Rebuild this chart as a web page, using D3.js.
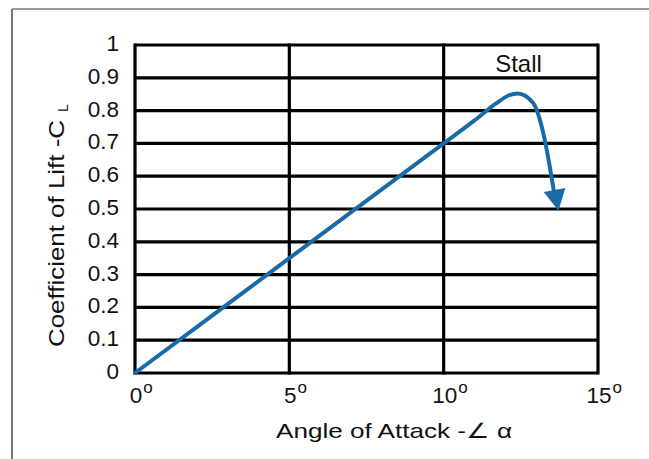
<!DOCTYPE html>
<html><head><meta charset="utf-8">
<script src="https://cdn.jsdelivr.net/npm/d3@7"></script>
<style>html,body{margin:0;padding:0;background:#fff;}svg{display:block;font-family:"Liberation Sans",Arial,sans-serif;}</style>
</head><body>
<svg id="c" width="649" height="459"></svg>
<script>
const xTicks = [0, 5, 10, 15];
const xTickLabels = ["0", "5", "10", "15"];
const yTicks = [0, 0.1, 0.2, 0.3, 0.4, 0.5, 0.6, 0.7, 0.8, 0.9, 1];
const yTickLabels = ["0", "0.1", "0.2", "0.3", "0.4", "0.5", "0.6", "0.7", "0.8", "0.9", "1"];
const angle = [0, 5, 10, 11.0, 11.7, 12.1, 12.4, 12.9, 13.18, 13.38, 13.56];
const cl    = [0, 0.35, 0.70, 0.77, 0.822, 0.846, 0.852, 0.823, 0.75, 0.66, 0.56];
const arrowTip = [13.72, 0.495];

const svg = d3.select("#c");
const x = d3.scaleLinear().domain([0, 15]).range([135, 598]);
const y = d3.scaleLinear().domain([0, 1]).range([373, 45]);

// outer frame
svg.append("line").attr("x1", 12).attr("x2", 649).attr("y1", 9).attr("y2", 9).attr("stroke", "#777").attr("stroke-width", 1.5);
svg.append("line").attr("x1", 12).attr("x2", 12).attr("y1", 9).attr("y2", 459).attr("stroke", "#777").attr("stroke-width", 2);

// grid
const g = svg.append("g");
g.selectAll("line.h").data(yTicks).join("line").attr("class", "h")
  .attr("x1", x(0)).attr("x2", x(15)).attr("y1", d => y(d)).attr("y2", d => y(d))
  .attr("stroke", "#000").attr("stroke-width", 3.2);
g.selectAll("line.v").data(xTicks).join("line").attr("class", "v")
  .attr("x1", d => x(d)).attr("x2", d => x(d)).attr("y1", y(0) + 1.6).attr("y2", y(1) - 1.6)
  .attr("stroke", "#000").attr("stroke-width", 3.2);

// y tick labels
svg.selectAll("text.yt").data(yTicks).join("text").attr("class", "yt")
  .attr("x", 119).attr("y", d => y(d) + 6).attr("text-anchor", "end")
  .attr("font-size", 22.5).attr("fill", "#111").text((d, i) => yTickLabels[i]);

// x tick labels with degree superscript
xTicks.forEach((d, i) => {
  const t = svg.append("text").attr("y", 403).attr("font-size", 22.5).attr("fill", "#111");
  t.append("tspan").text(xTickLabels[i]);
  t.append("tspan").attr("font-size", 17).attr("dy", -10).attr("dx", 1).text("o");
  const numW = t.select("tspan").node().getComputedTextLength();
  t.attr("x", x(d) - numW / 2 + 1);
});

// axis titles
svg.append("text").attr("x", 276).attr("y", 438)
  .attr("font-size", 21).attr("fill", "#111")
  .attr("textLength", 236).attr("lengthAdjust", "spacingAndGlyphs")
  .text("Angle of Attack -∠ α");
const yt = svg.append("text").attr("transform", `translate(64,347) rotate(-90)`)
  .attr("font-size", 22).attr("fill", "#111");
yt.append("tspan").attr("textLength", 227).attr("lengthAdjust", "spacingAndGlyphs").text("Coefficient of Lift -C");
yt.append("tspan").attr("font-size", 14).attr("dx", 8).attr("dy", 4).text("L");

svg.append("text").attr("x", 518.5).attr("y", 72).attr("text-anchor", "middle")
  .attr("font-size", 24).attr("fill", "#111").text("Stall");

// curve
const pts = angle.map((a, i) => [a, cl[i]]);
const line = d3.line().x(d => x(d[0])).y(d => y(d[1])).curve(d3.curveMonotoneX);
svg.append("path").attr("d", line(pts)).attr("fill", "none")
  .attr("stroke", "#1a6aa8").attr("stroke-width", 4).attr("stroke-linecap", "round");

// arrowhead
const tx = x(arrowTip[0]), ty = y(arrowTip[1]);
const lx = x(pts[pts.length - 2][0]), ly = y(pts[pts.length - 2][1]);
const ang = Math.atan2(ty - ly, tx - lx);
const len = 21, half = 11;
const bx = tx - len * Math.cos(ang), by = ty - len * Math.sin(ang);
const px = -Math.sin(ang), py = Math.cos(ang);
svg.append("path")
  .attr("d", `M${tx},${ty}L${bx + px * half},${by + py * half}L${bx - px * half},${by - py * half}Z`)
  .attr("fill", "#1a6aa8");
</script>
</body></html>
